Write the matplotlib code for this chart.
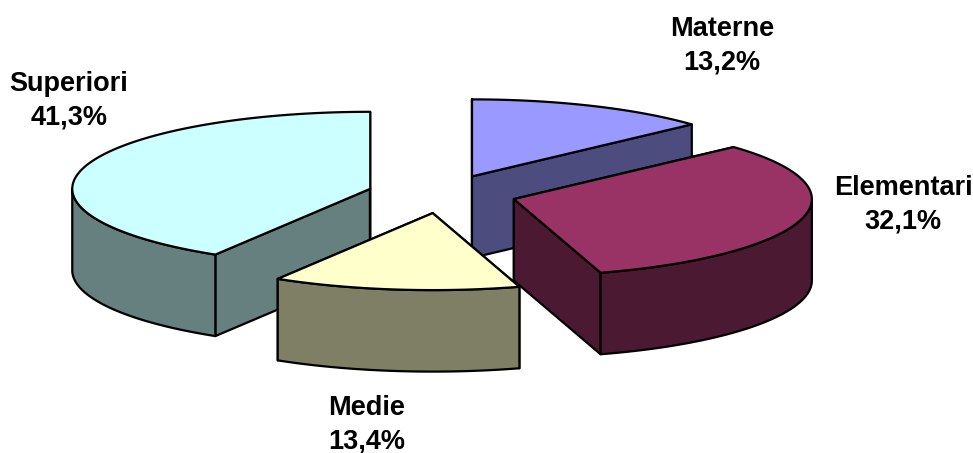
"""Exploded 3D-looking pie chart, drawn by hand since matplotlib has no such pie."""

import matplotlib

matplotlib.use("Agg")
import matplotlib.pyplot as plt
import numpy as np
from matplotlib.patches import Polygon

labels = ["Materne", "Elementari", "Medie", "Superiori"]
values = [13.2, 32.1, 13.4, 41.3]
top_colors = ["#9999FF", "#993366", "#FFFFCC", "#CCFFFF"]
side_colors = ["#4C4C7F", "#4C1933", "#7F7F66", "#667F7F"]

# pie geometry in pixels
CENTER = (442.0, 194.0)
RX, RY = 298.0, 77.0
DEPTH = 81.5
EXPLODE = 0.25
LINE = 1.6

label_pos = [(722, 46), (903, 205), (367, 425), (69, 101)]
draw_order = [0, 3, 1, 2]


def project(theta, radius, apex):
    return np.column_stack(
        [apex[0] + RX * radius * np.sin(theta), apex[1] - RY * radius * np.cos(theta)]
    )


def face(ax, points, color, z):
    ax.add_patch(
        Polygon(points, closed=True, facecolor=color, edgecolor="black",
                linewidth=LINE, joinstyle="round", zorder=z)
    )


def draw_slice(ax, start, end, top_color, side_color, z):
    mid = (start + end) / 2
    apex = (
        CENTER[0] + RX * EXPLODE * np.sin(mid),
        CENTER[1] - RY * EXPLODE * np.cos(mid),
    )
    down = np.array([0.0, DEPTH])
    apex_pt = np.array([apex])

    # the two cut faces go first, the rim and top cover whatever is hidden
    for angle in (start, end):
        edge = np.vstack([apex_pt, project(np.array([angle]), 1.0, apex)])
        face(ax, np.vstack([edge, edge[::-1] + down]), side_color, z)

    # rim only shows on the front half of the ellipse
    lo, hi = max(start, np.pi / 2), min(end, 3 * np.pi / 2)
    if hi > lo:
        rim = project(np.linspace(lo, hi, 80), 1.0, apex)
        face(ax, np.vstack([rim, rim[::-1] + down]), side_color, z)

    arc = project(np.linspace(start, end, 160), 1.0, apex)
    face(ax, np.vstack([apex_pt, arc]), top_color, z)


def main():
    fig = plt.figure(figsize=(9.73, 4.53), dpi=100)
    ax = fig.add_axes([0, 0, 1, 1])
    ax.set_xlim(0, 973)
    ax.set_ylim(453, 0)
    ax.axis("off")

    edges = np.concatenate([[0.0], np.cumsum(values)]) / np.sum(values) * 2 * np.pi
    for z, i in enumerate(draw_order):
        draw_slice(ax, edges[i], edges[i + 1], top_colors[i], side_colors[i], z + 1)

    for label, value, (x, y) in zip(labels, values, label_pos):
        text = f"{label}\n{value:.1f}%".replace(".", ",")
        ax.text(x, y, text, ha="center", va="center", fontsize=19.5, fontweight="bold",
                family="Liberation Sans", linespacing=1.37, color="black", zorder=10)

    fig.savefig("out.png", dpi=100)
    plt.close(fig)


if __name__ == "__main__":
    main()
